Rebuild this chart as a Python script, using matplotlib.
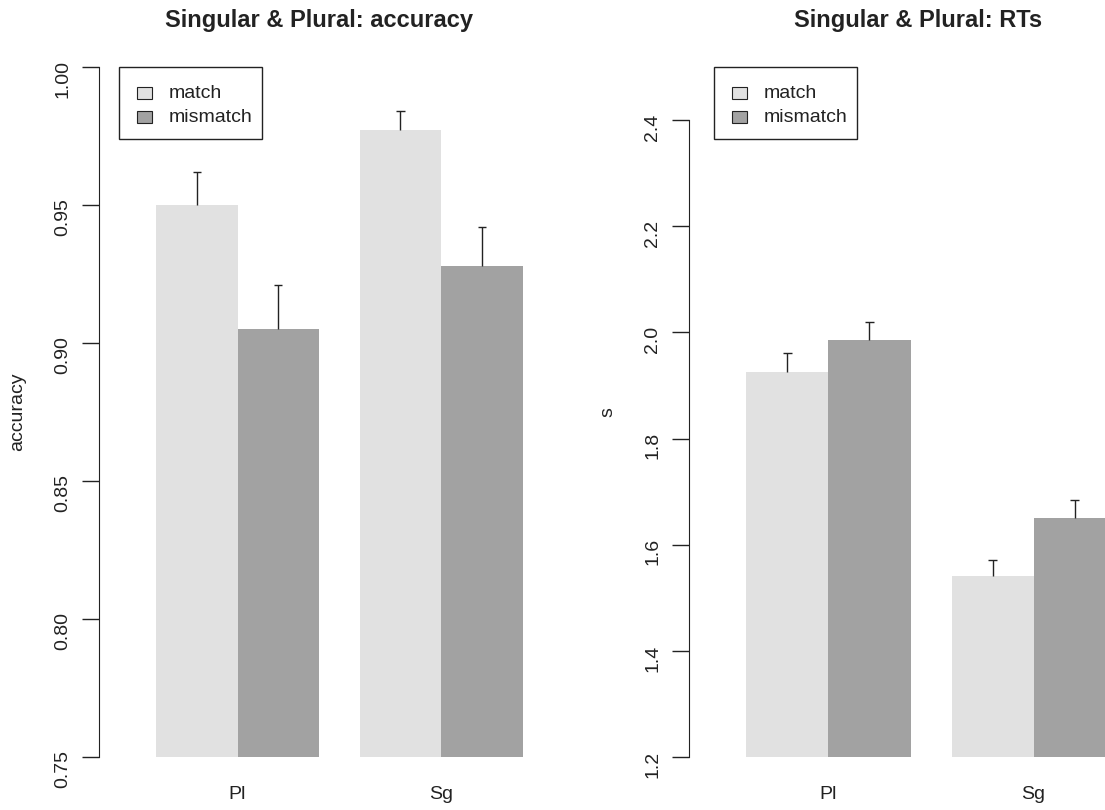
import matplotlib
matplotlib.use("Agg")
import matplotlib.pyplot as plt
import numpy as np
from matplotlib.patches import Rectangle

plt.rcParams['font.family'] = ['Liberation Sans', 'DejaVu Sans']

W, H = 1105, 810

groups = ["Pl", "Sg"]
conditions = ["match", "mismatch"]
colors = ["#e1e1e1", "#a2a2a2"]

acc_match = [0.950, 0.977]
acc_match_se = [0.012, 0.007]
acc_mismatch = [0.905, 0.928]
acc_mismatch_se = [0.016, 0.014]

rt_match = [1.926, 1.541]
rt_match_se = [0.036, 0.030]
rt_mismatch = [1.986, 1.650]
rt_mismatch_se = [0.034, 0.034]

acc_ticks = [0.75, 0.80, 0.85, 0.90, 0.95, 1.00]
rt_ticks = [1.2, 1.4, 1.6, 1.8, 2.0, 2.2, 2.4]

INK = "#222222"


def fx(px):
    return px / W


def fy(py):
    return 1 - py / H


def draw_legend(fig, left, top):
    # R style legend box, drawn in pixel units
    fig.patches.append(Rectangle((fx(left), fy(top + 72)), 143 / W, 72 / H,
                                 transform=fig.transFigure, facecolor="white",
                                 edgecolor=INK, lw=1.0, zorder=5))
    for i, (lab, col) in enumerate(zip(conditions, colors)):
        cy = top + 26 + 24 * i
        fig.patches.append(Rectangle((fx(left + 18), fy(cy + 5.5)), 15 / W, 11 / H,
                                     transform=fig.transFigure, facecolor=col,
                                     edgecolor=INK, lw=0.8, zorder=6))
        fig.text(fx(left + 50), fy(cy), lab, ha="left", va="center",
                 fontsize=14, color=INK, zorder=7)


def panel(fig, rect, match, match_se, mism, mism_se, ylim, ticks, fmt):
    ax = fig.add_axes(rect)
    base = ylim[0]
    x0 = np.arange(len(groups)) * 2.5 + 0.5
    for k, (vals, se) in enumerate(((match, match_se), (mism, mism_se))):
        xs = x0 + k + 0.5
        vals = np.array(vals)
        ax.bar(xs, vals - base, bottom=base, width=1.0, color=colors[k],
               edgecolor="none")
        top = vals + np.array(se)
        ax.vlines(xs, vals, top, color=INK, lw=1.0)
        ax.hlines(top, xs - 0.05, xs + 0.05, color=INK, lw=1.0)
    ax.set_xlim(-0.2, 5.2)
    ax.set_ylim(*ylim)
    for s in ("top", "right", "bottom"):
        ax.spines[s].set_visible(False)
    ax.spines["left"].set_bounds(ticks[0], ticks[-1])
    ax.spines["left"].set_color(INK)
    ax.set_yticks(ticks)
    ax.set_yticklabels([fmt.format(t) for t in ticks])
    ax.tick_params(axis="y", length=12, width=1.0, color=INK, labelsize=14,
                   labelrotation=90, pad=8, labelcolor=INK)
    ax.set_xticks(x0 + 1)
    ax.set_xticklabels(groups)
    ax.tick_params(axis="x", length=0, labelsize=14, pad=21, labelcolor=INK)
    ax.patch.set_visible(False)
    return ax


fig = plt.figure(figsize=(W / 100, H / 100), dpi=100)

plot_top, plot_bot = 67, 757
panel(fig, [fx(99), fy(plot_bot), 440 / W, (plot_bot - plot_top) / H],
      acc_match, acc_match_se, acc_mismatch, acc_mismatch_se,
      (0.75, 1.00), acc_ticks, "{:.2f}")
panel(fig, [fx(689), fy(plot_bot), 443 / W, (plot_bot - plot_top) / H],
      rt_match, rt_match_se, rt_mismatch, rt_mismatch_se,
      (1.2, 2.5), rt_ticks, "{:.1f}")

fig.text(fx(319), fy(21), "Singular & Plural: accuracy", ha="center",
         va="center", fontsize=17, fontweight="bold", color=INK)
fig.text(fx(918), fy(21), "Singular & Plural: RTs", ha="center",
         va="center", fontsize=17, fontweight="bold", color=INK)
fig.text(fx(18), fy(412), "accuracy", rotation=90, ha="center", va="center",
         fontsize=14, color=INK)
fig.text(fx(608), fy(412), "s", rotation=90, ha="center", va="center",
         fontsize=14, color=INK)

draw_legend(fig, 119, 67)
draw_legend(fig, 714, 67)

fig.savefig("out.png", dpi=100)
